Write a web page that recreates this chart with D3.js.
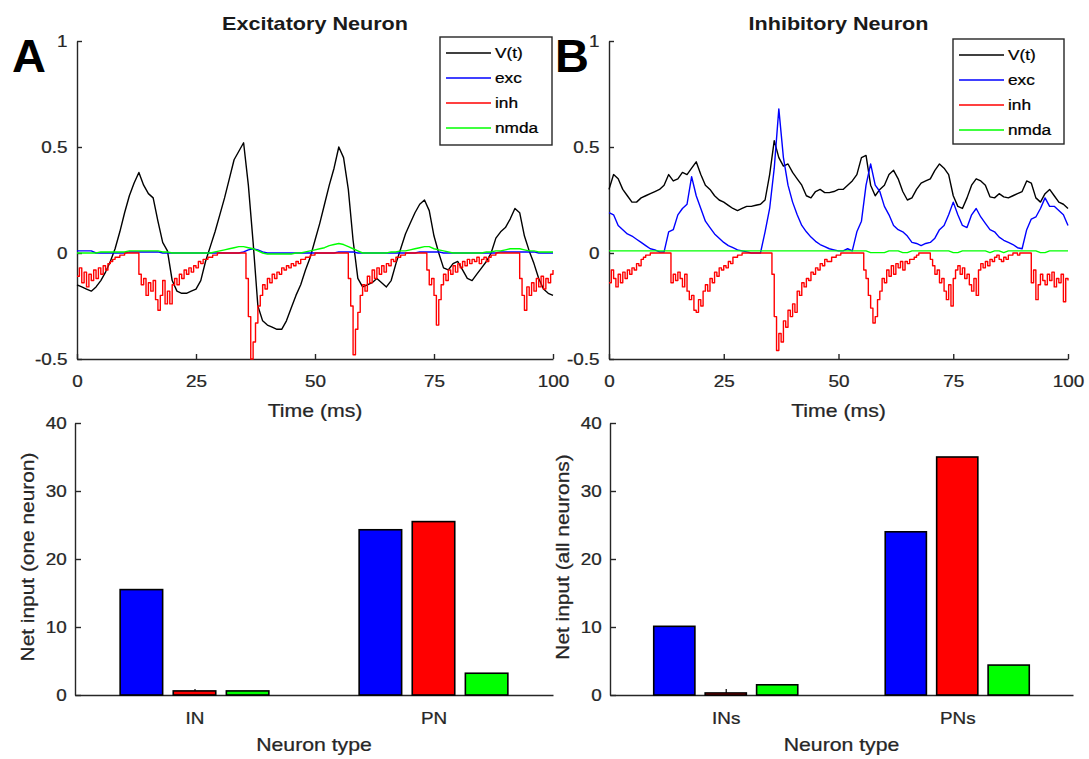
<!DOCTYPE html>
<html><head><meta charset="utf-8">
<script src="https://cdn.jsdelivr.net/npm/d3@7"></script>
<style>
body{margin:0;background:#fff}
svg{display:block}
</style>
</head><body>
<svg id="c" width="1089" height="759"></svg>
<script>
// ---------------- DATA ----------------
const timeTicks = [0, 25, 50, 75, 100];
const vTicks = [-0.5, 0, 0.5, 1];
const barTicks = [0, 10, 20, 30, 40];
const legendNames = ["V(t)", "exc", "inh", "nmda"];
const seriesColors = ["#000000", "#0000ff", "#ff0000", "#00ff00"];
const stepFine = 0.5;   // ms, inh traces
const stepCoarse = 1;   // ms, other traces

// Panel A (excitatory neuron)
const vA = [
 -0.15,-0.16,-0.17,-0.18,-0.16,-0.13,-0.09,-0.04,0.02,0.10,
 0.19,0.27,0.33,0.38,0.32,0.28,0.26,0.15,0.05,0.01,
 -0.13,-0.18,-0.19,-0.19,-0.18,-0.17,-0.13,-0.04,0.03,0.10,
 0.18,0.26,0.35,0.44,0.48,0.52,0.32,0.05,-0.25,-0.32,
 -0.34,-0.35,-0.36,-0.36,-0.32,-0.26,-0.20,-0.15,-0.08,-0.02,
 0.06,0.14,0.23,0.32,0.40,0.50,0.45,0.30,0.06,-0.12,
 -0.16,-0.15,-0.14,-0.12,-0.14,-0.16,-0.13,-0.05,0.02,0.09,
 0.14,0.19,0.23,0.25,0.20,0.08,0.00,-0.07,-0.08,-0.05,
 -0.04,-0.08,-0.12,-0.13,-0.10,-0.07,-0.04,0.00,0.07,0.10,
 0.12,0.16,0.21,0.19,0.08,0.01,-0.05,-0.12,-0.17,-0.19,
 -0.20];
const excA = [
 0.01,0.01,0.01,0.01,0,0,0,0,0,0,
 0,0.005,0.005,0.005,0.005,0.005,0.005,0.005,0,0,
 0,0,0,0,0,0,0,0,0,0,
 0,0,0,0,0,0.005,0.015,0.02,0.015,0.005,
 0,0,0,0,0,0,0,0,0,0,
 0,0,0,0,0,0.005,0.005,0.005,0.005,0,
 0,0,0,0,0,0,0,0,0,0,
 0,0,0.005,0.005,0.005,0.005,0.005,0,0,0,
 0,0,0,0,0,0,0,0,0,0.005,
 0.005,0.005,0.005,0.005,0.005,0.005,0.005,0,0,0,
 0];
const inhA = [
 -0.11,-0.07,-0.14,-0.09,-0.16,-0.10,-0.13,-0.08,-0.12,-0.07,
 -0.10,-0.06,-0.08,-0.05,-0.04,-0.03,-0.02,-0.02,-0.01,-0.01,
 0,0,0,0,0,0,-0.10,-0.15,-0.12,-0.20,
 -0.14,-0.18,-0.13,-0.22,-0.27,-0.20,-0.13,-0.24,-0.18,-0.24,
 -0.15,-0.12,-0.15,-0.10,-0.12,-0.08,-0.10,-0.07,-0.09,-0.06,
 -0.07,-0.04,-0.05,-0.03,-0.03,-0.02,-0.02,-0.01,-0.01,0,
 0,0,0,0,0,0,0,0,0,0,
 0,-0.12,-0.30,-0.50,-0.42,-0.33,-0.25,-0.20,-0.15,-0.17,
 -0.12,-0.14,-0.10,-0.12,-0.09,-0.10,-0.07,-0.08,-0.06,-0.07,
 -0.05,-0.06,-0.04,-0.05,-0.03,-0.03,-0.02,-0.02,-0.01,-0.01,
 0,0,0,0,0,0,0,0,0,0,
 0,0,0,0,-0.12,-0.25,-0.48,-0.36,-0.28,-0.20,
 -0.15,-0.18,-0.11,-0.14,-0.08,-0.12,-0.07,-0.10,-0.06,-0.09,
 -0.05,-0.06,-0.03,-0.04,-0.02,-0.02,-0.01,-0.01,0,0,
 0,0,0,0,0,0,0,-0.08,-0.15,-0.12,
 -0.20,-0.34,-0.22,-0.15,-0.10,-0.13,-0.08,-0.10,-0.06,-0.09,
 -0.05,-0.07,-0.04,-0.06,-0.03,-0.05,-0.03,-0.04,-0.02,-0.05,
 -0.03,-0.02,-0.04,-0.02,-0.01,-0.01,0,0,0,0,
 0,0,0,0,0,0,-0.12,-0.20,-0.27,-0.16,
 -0.20,-0.14,-0.18,-0.12,-0.16,-0.11,-0.17,-0.12,-0.14,-0.10,
 -0.08];
const nmdaA = [
 0,0,0,0,0,0.005,0.005,0.005,0.005,0.005,
 0.005,0.01,0.01,0.01,0.01,0.01,0.01,0.01,0.005,0.005,
 0,0,0,0,0,0,0,0,0,0.005,
 0.01,0.015,0.02,0.025,0.03,0.03,0.025,0.02,0.01,0,
 -0.005,-0.005,-0.005,-0.005,-0.005,-0.005,0,0,0.005,0.01,
 0.015,0.02,0.025,0.035,0.04,0.045,0.04,0.03,0.02,0.01,
 0,0,0,0,0,0,0.005,0.005,0.01,0.01,
 0.015,0.02,0.025,0.03,0.03,0.02,0.015,0.01,0.005,0,
 0,0,0,0,0,0,0.005,0.005,0.01,0.01,
 0.015,0.02,0.02,0.02,0.015,0.01,0.01,0.005,0.005,0.005,
 0.005];

// Panel B (inhibitory neuron)
const vB = [
 0.30,0.37,0.35,0.30,0.27,0.24,0.24,0.26,0.27,0.28,
 0.29,0.30,0.32,0.37,0.34,0.35,0.38,0.37,0.40,0.43,
 0.37,0.32,0.30,0.27,0.25,0.24,0.225,0.21,0.20,0.21,
 0.22,0.22,0.225,0.23,0.25,0.37,0.53,0.45,0.41,0.42,
 0.38,0.35,0.32,0.27,0.26,0.29,0.30,0.285,0.285,0.29,
 0.30,0.30,0.32,0.34,0.37,0.45,0.46,0.32,0.27,0.30,
 0.32,0.37,0.39,0.35,0.29,0.25,0.26,0.30,0.33,0.34,
 0.35,0.39,0.42,0.40,0.37,0.27,0.22,0.21,0.26,0.32,
 0.35,0.34,0.32,0.265,0.26,0.28,0.265,0.26,0.27,0.28,
 0.29,0.34,0.33,0.26,0.24,0.28,0.30,0.27,0.24,0.23,
 0.21];
const excB = [
 0.19,0.18,0.13,0.11,0.09,0.08,0.065,0.05,0.035,0.02,
 0.015,0.005,0.005,0.10,0.11,0.18,0.21,0.23,0.36,0.27,
 0.21,0.15,0.12,0.09,0.07,0.05,0.035,0.025,0.015,0.01,
 0.005,0,0,0,0.10,0.21,0.40,0.68,0.45,0.32,
 0.24,0.18,0.13,0.10,0.075,0.055,0.04,0.03,0.02,0.015,
 0.01,0.01,0.02,0.01,0.10,0.15,0.32,0.42,0.32,0.29,
 0.22,0.18,0.13,0.11,0.10,0.08,0.05,0.045,0.035,0.045,
 0.05,0.07,0.11,0.13,0.18,0.24,0.18,0.13,0.12,0.18,
 0.21,0.17,0.14,0.11,0.10,0.075,0.06,0.05,0.04,0.025,
 0.02,0.11,0.16,0.17,0.21,0.26,0.22,0.22,0.20,0.18,
 0.13];
const inhB = [
 -0.14,-0.08,-0.12,-0.16,-0.10,-0.14,-0.09,-0.12,-0.08,-0.10,
 -0.07,-0.08,-0.05,-0.06,-0.03,-0.02,-0.01,-0.01,0,0,
 0,0,0,0,0,0,0,-0.14,-0.10,-0.13,
 -0.09,-0.12,-0.16,-0.10,-0.18,-0.22,-0.20,-0.27,-0.28,-0.22,
 -0.25,-0.18,-0.15,-0.18,-0.12,-0.14,-0.09,-0.11,-0.07,-0.08,
 -0.06,-0.07,-0.04,-0.05,-0.02,-0.02,-0.01,-0.01,0,0,
 0,0,0,0,0,0,0,0,0,0,
 0,-0.10,-0.30,-0.46,-0.38,-0.42,-0.32,-0.35,-0.27,-0.30,
 -0.24,-0.28,-0.18,-0.20,-0.14,-0.16,-0.12,-0.13,-0.09,-0.10,
 -0.07,-0.08,-0.05,-0.06,-0.03,-0.04,-0.04,-0.02,-0.02,-0.01,
 -0.01,0,0,0,0,0,0,0,0,0,
 0,-0.08,-0.12,-0.20,-0.26,-0.33,-0.30,-0.22,-0.18,-0.12,
 -0.14,-0.08,-0.11,-0.06,-0.10,-0.05,-0.07,-0.04,-0.08,-0.04,
 -0.05,-0.03,-0.03,-0.02,-0.01,0,0,0,0,0,
 -0.03,-0.06,-0.10,-0.08,-0.14,-0.12,-0.18,-0.22,-0.15,-0.25,
 -0.12,-0.08,-0.06,-0.10,-0.07,-0.12,-0.10,-0.15,-0.18,-0.12,
 -0.20,-0.08,-0.05,-0.07,-0.04,-0.06,-0.03,-0.04,-0.02,-0.01,
 -0.03,-0.04,-0.02,-0.03,-0.01,-0.01,0,0,-0.01,0,
 0,0,0,0,-0.14,-0.08,-0.22,-0.15,-0.10,-0.13,
 -0.15,-0.10,-0.13,-0.09,-0.16,-0.12,-0.14,-0.10,-0.23,-0.12,
 -0.13];
const nmdaB = [
 0.01,0.01,0.01,0.01,0.01,0.01,0.01,0.01,0.01,0.01,
 0.01,0.01,0.01,0.01,0.01,0.01,0.01,0.01,0.01,0.01,
 0.01,0.01,0.01,0.01,0.01,0.01,0.01,0.01,0.01,0.01,
 0.01,0.01,0.01,0.01,0.01,0.01,0.01,0.01,0.01,0.01,
 0.01,0.01,0.01,0.01,0.01,0.01,0.01,0.01,0.01,0.01,
 0.01,0.01,0.01,0.01,0.01,0.01,0.01,0.002,0.002,0.002,
 0.002,0.01,0.01,0.01,0.002,0.002,0.01,0.01,0.01,0.01,
 0.01,0.01,0.01,0.01,0.01,0.002,0.002,0.01,0.01,0.01,
 0.01,0.01,0.01,0.002,0.01,0.01,0.002,0.01,0.01,0.01,
 0.01,0.01,0.01,0.01,0.002,0.002,0.01,0.01,0.01,0.01,
 0.01];

// Bar charts
const barCatsA = ["IN", "PN"];
const barCatsB = ["INs", "PNs"];
const barExcA = [15.5, 24.3];
const barInhA = [0.6, 25.5];
const barNmdaA = [0.6, 3.2];
const barExcB = [10.1, 24.0];
const barInhB = [0.3, 35.0];
const barNmdaB = [1.5, 4.4];
const barColors = ["#0000ff", "#ff0000", "#00ff00"];

// ---------------- DRAWING ----------------
const svg = d3.select("#c");
const FONT = "'Liberation Sans', Arial, Helvetica, sans-serif";
const AX = "#262626";
const SX = 1.18;

function styleAxis(g, size) {
  g.attr("font-family", FONT);
  g.select(".domain").attr("stroke", AX).attr("stroke-width", 1.4);
  g.selectAll(".tick line").attr("stroke", AX).attr("stroke-width", 1.4);
  g.selectAll(".tick text").attr("font-size", size).attr("fill", AX)
    .attr("stroke", AX).attr("stroke-width", 0.25)
    .attr("transform", `scale(${SX},1)`);
}
function label(txt, x, y, o) {
  o = o || {};
  svg.append("text")
    .attr("transform", `translate(${x},${y})${o.rotate ? ` rotate(${o.rotate})` : ""} scale(${o.sx || SX},1)`)
    .attr("text-anchor", o.anchor || "middle")
    .attr("font-family", FONT)
    .attr("font-size", o.size || 18)
    .attr("font-weight", o.weight || "normal")
    .attr("fill", o.fill || AX)
    .attr("stroke", o.weight === "bold" ? "none" : (o.fill || AX))
    .attr("stroke-width", 0.25)
    .text(txt);
}

function linePanel(c) {
  const x = d3.scaleLinear().domain([0, 100]).range([c.x0, c.x1]);
  const y = d3.scaleLinear().domain([-0.5, 1]).range([c.yb, c.yt]);
  svg.append("g").attr("transform", `translate(0,${c.yb})`)
    .call(d3.axisBottom(x).tickValues(timeTicks).tickFormat(d => String(d))
      .tickSizeInner(-5).tickSizeOuter(0).tickPadding(17))
    .call(g => styleAxis(g, 16));
  svg.append("g").attr("transform", `translate(${c.x0},0)`)
    .call(d3.axisLeft(y).tickValues(vTicks).tickFormat(d => String(d))
      .tickSizeInner(-5).tickSizeOuter(0).tickPadding(8))
    .call(g => styleAxis(g, 16));

  const series = [[c.v, stepCoarse, d3.curveLinear], [c.exc, stepCoarse, d3.curveLinear],
                  [c.inh, stepFine, d3.curveStepAfter], [c.nmda, stepCoarse, d3.curveLinear]];
  series.forEach(([arr, step, curve], k) => {
    const line = d3.line().curve(curve).x((d, i) => x(i * step)).y(d => y(d));
    svg.append("path").datum(arr).attr("d", line)
      .attr("fill", "none").attr("stroke", seriesColors[k])
      .attr("stroke-width", 1.4).attr("stroke-linejoin", "round");
  });

  // legend
  const L = c.legend;
  svg.append("rect").attr("x", L.x).attr("y", L.y).attr("width", L.w).attr("height", L.h)
    .attr("fill", "#fff").attr("stroke", AX).attr("stroke-width", 1.4);
  legendNames.forEach((n, k) => {
    const yy = L.y + 16 + k * 25;
    svg.append("line").attr("x1", L.x + 6).attr("x2", L.x + 51).attr("y1", yy).attr("y2", yy)
      .attr("stroke", seriesColors[k]).attr("stroke-width", 1.4);
    label(n, L.x + 55, yy + 5, { anchor: "start", size: 15, fill: "#000", sx: 1.15 });
  });

  label(c.title, (c.x0 + c.x1) / 2, 30, { size: 18, weight: "bold", fill: "#1a1a1a", sx: 1.2 });
  label("Time (ms)", (c.x0 + c.x1) / 2, 417, { size: 18 });
  label(c.letter, c.lx, 72, { anchor: "start", size: 47, weight: "bold", fill: "#000", sx: 1.0 });
}

function barPanel(c) {
  const x = d3.scaleLinear().domain([0.5, 2.5]).range([c.x0, c.x1]);
  const y = d3.scaleLinear().domain([0, 40]).range([c.yb, c.yt]);
  svg.append("g").attr("transform", `translate(0,${c.yb})`)
    .call(d3.axisBottom(x).tickValues([1, 2]).tickFormat((d, i) => c.cats[i])
      .tickSizeInner(-6).tickSizeOuter(0).tickPadding(18))
    .call(g => styleAxis(g, 16));
  svg.append("g").attr("transform", `translate(${c.x0},0)`)
    .call(d3.axisLeft(y).tickValues(barTicks).tickFormat(d => String(d))
      .tickSizeInner(-6).tickSizeOuter(0).tickPadding(7))
    .call(g => styleAxis(g, 16));

  const groupOffset = 0.2222, barW = 0.1778;
  c.series.forEach((vals, k) => {
    svg.append("g").selectAll("rect").data(vals).join("rect")
      .attr("x", (d, i) => x(i + 1 + (k - 1) * groupOffset - barW / 2))
      .attr("width", x(barW) - x(0))
      .attr("y", d => y(d))
      .attr("height", d => y(0) - y(d))
      .attr("fill", barColors[k]).attr("stroke", "#000").attr("stroke-width", 1.6);
  });
  label("Neuron type", (c.x0 + c.x1) / 2, 751, { size: 18 });
  label(c.ylabel, c.ylx, (c.yb + c.yt) / 2 - 2, { rotate: -90, size: 18, sx: 1.16 });
}

linePanel({ x0: 77, x1: 553, yb: 359, yt: 41, v: vA, exc: excA, inh: inhA, nmda: nmdaA,
  legend: { x: 440, y: 37, w: 112, h: 108 }, title: "Excitatory Neuron", letter: "A", lx: 12 });
linePanel({ x0: 609, x1: 1068, yb: 359, yt: 41, v: vB, exc: excB, inh: inhB, nmda: nmdaB,
  legend: { x: 953, y: 39, w: 111, h: 105 }, title: "Inhibitory Neuron", letter: "B", lx: 555 });

barPanel({ x0: 75, x1: 553, yb: 695, yt: 423, cats: barCatsA,
  series: [barExcA, barInhA, barNmdaA], ylabel: "Net input (one neuron)", ylx: 34 });
barPanel({ x0: 610, x1: 1073, yb: 695, yt: 423, cats: barCatsB,
  series: [barExcB, barInhB, barNmdaB], ylabel: "Net input (all neurons)", ylx: 569 });
</script>
</body></html>
